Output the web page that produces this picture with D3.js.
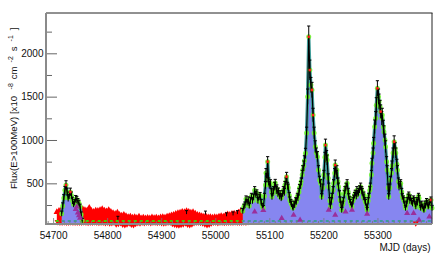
<!DOCTYPE html>
<html><head><meta charset="utf-8">
<script src="https://cdn.jsdelivr.net/npm/d3@7"></script>
<style>html,body{margin:0;padding:0;background:#fff;} svg{display:block;}</style>
</head><body>
<svg id="c" width="447" height="256"></svg>
<script>
// ---------- data ----------
const xDomain = [54686, 55400];
const yDomain = [31, 2465];
const xTickValues = [54700, 54800, 54900, 55000, 55100, 55200, 55300];
const yTickValues = [500, 1000, 1500, 2000];
const yMinorTicks = [250, 750, 1250, 1750, 2250];
const xTitle = "MJD (days)";

// dense red early points (time grid, high and low edge of the band)
const redMjd = d3.range(54706, 55059, 4);
const redHi = [180,195,205,220,230,220,230,220,210,220,
               210,200,215,205,200,230,195,185,200,195,
               205,215,200,190,205,185,170,160,175,150,
               140,150,135,125,130,118,125,115,128,110,
               118,108,115,110,120,112,118,110,120,125,
               118,130,135,145,150,160,170,175,185,180,
               192,185,175,180,165,150,145,135,130,128,
               122,125,118,125,120,130,135,130,145,155,
               150,160,165,158,175,190,200,185,170];
const redLo = [45,40,40,42,38,40,42,40,38,40,
               40,38,42,40,36,40,38,42,40,36,
               40,38,35,40,30,35,38,20,25,35,
               15,10,20,30,15,10,25,35,30,38,
               35,40,38,35,40,38,36,40,35,30,
               35,38,40,25,15,10,8,12,20,30,
               15,10,20,35,38,40,36,30,20,10,
               15,30,38,40,35,38,40,36,38,40,
               40,38,42,40,38,40,42,40,45];

// sparse black points inside the red period [mjd, flux, err]
const quietPoints = [[54819,100,20],[54946,165,20],[54981,160,20],[55020,140,20],[55032,150,20],[55040,165,20],[55048,190,25]];

// first flare [mjd, flux, err]
const flareA = [[54715,150,30],[54717,240,35],[54719,330,40],[54721,420,45],[54723,480,50],[54725,400,45],
  [54727,330,40],[54729,360,40],[54731,400,45],[54733,360,40],[54735,300,40],[54737,260,35],[54739,280,35],
  [54741,320,40],[54743,310,40],[54745,290,35],[54747,270,35],[54749,230,30],[54751,140,30],[54753,70,25]];

// main active period [mjd, flux, err]
const flareB = [
  [55050,180,30],[55052,230,30],[55054,250,35],[55056,320,35],[55058,280,35],[55060,310,35],[55062,240,30],
  [55064,300,35],[55066,350,35],[55068,300,35],[55070,340,35],[55072,420,42],[55074,370,35],[55076,390,35],
  [55078,300,35],[55080,340,35],[55082,360,35],[55084,280,35],[55086,240,30],[55088,215,30],[55090,350,35],
  [55092,480,42],[55093,620,50],[55095,560,50],[55096,750,58],[55098,520,42],[55099,480,42],[55101,500,42],
  [55103,400,42],[55104,346,35],[55106,390,35],[55107,420,42],[55109,470,42],[55110,504,42],[55112,420,42],
  [55113,440,42],[55115,380,35],[55116,404,42],[55118,350,35],[55119,380,35],[55121,330,35],[55122,346,35],
  [55124,380,35],[55125,420,42],[55127,400,42],[55128,480,42],[55130,520,42],[55131,577,50],[55133,470,42],
  [55134,450,42],[55136,360,35],[55137,308,35],[55139,280,35],[55140,260,35],[55142,230,30],[55143,215,30],
  [55145,260,35],[55146,250,35],[55148,300,35],[55149,288,35],[55151,350,35],[55152,330,35],[55154,400,42],
  [55155,446,42],[55157,480,42],[55158,520,42],[55160,600,50],[55161,654,50],[55163,700,58],[55164,760,58],
  [55166,846,58],[55168,1080,68],[55170,1500,88],[55172,2190,125],[55174,1807,115],[55176,1634,88],
  [55178,1577,88],[55180,1288,78],[55182,1080,68],[55184,923,68],[55186,850,58],[55188,808,58],[55190,654,50],
  [55192,540,42],[55194,500,42],[55196,346,35],[55198,450,42],[55200,600,50],[55202,800,58],[55203,942,68],
  [55205,820,58],[55206,769,58],[55208,560,50],[55209,461,42],[55211,300,35],[55212,231,30],[55214,300,35],
  [55215,350,35],[55217,420,42],[55218,500,42],[55220,620,50],[55221,711,58],[55223,600,50],[55224,654,50],
  [55226,520,42],[55227,461,42],[55229,380,35],[55230,308,35],[55232,250,35],[55233,192,30],[55235,260,35],
  [55236,300,35],[55238,380,35],[55239,420,42],[55241,460,42],[55243,500,42],[55245,400,42],[55246,346,35],
  [55248,310,35],[55249,280,35],[55251,250,35],[55252,231,30],[55254,300,35],[55255,330,35],[55257,360,35],
  [55258,385,35],[55260,350,35],[55261,420,42],[55263,380,35],[55264,400,42],[55266,430,42],[55268,461,42],
  [55270,420,42],[55271,400,42],[55273,340,35],[55274,365,35],[55276,300,35],[55277,280,35],[55279,230,30],
  [55280,192,30],[55282,300,35],[55283,350,35],[55285,420,42],[55286,461,42],[55288,600,50],[55289,731,58],
  [55291,850,58],[55292,962,68],[55294,1153,78],[55296,1250,78],[55297,1400,88],[55299,1596,88],
  [55301,1500,88],[55302,1442,88],[55304,1380,78],[55305,1327,78],[55307,1250,78],[55308,1288,78],
  [55310,1150,78],[55311,1096,68],[55313,1000,68],[55314,923,68],[55316,750,58],[55317,654,50],[55319,450,42],
  [55320,346,35],[55322,450,42],[55323,538,42],[55325,620,50],[55326,700,58],[55328,850,58],[55330,980,68],
  [55332,900,68],[55333,850,58],[55335,720,58],[55336,654,50],[55338,520,42],[55339,461,42],[55341,480,42],
  [55342,500,42],[55344,400,42],[55345,346,35],[55347,320,35],[55348,300,35],[55350,250,35],[55351,215,30],
  [55353,260,35],[55354,300,35],[55356,340,35],[55357,365,35],[55359,300,35],[55360,330,35],[55362,290,35],
  [55364,269,35],[55366,320,35],[55367,300,35],[55369,260,35],[55370,231,30],[55372,300,35],[55373,280,35],
  [55375,350,35],[55376,327,35],[55378,250,35],[55379,215,30],[55381,260,35],[55382,230,30],[55384,210,30],
  [55385,192,30],[55387,260,35],[55388,240,30],[55390,290,35],[55391,269,35],[55393,230,30],[55394,250,35],
  [55396,280,35],[55398,308,35],[55400,215,30]];

// points drawn with a red centre
const redCentreMjd = [54723,54731,55096,55131,55172,55174,55178,55180,55203,55221,55299,55305,55330,55398];
// purple triangles [mjd, flux]
const purpleMarks = [[54741,200],[54743,230],[54745,160],[54747,130],[54749,100],[55072,173],[55088,190],[55122,96],[55144,135],[55156,77],
  [55209,192],[55221,135],[55240,173],[55252,192],[55280,146],[55354,154],[55366,154],[55376,77],[55395,115]];
// red down triangle
const redMarks = [[55370,40]];
// dotted baseline level and its extent
const baseLevel = 66;
const baseRange = [54704, 55400];

// ---------- chart ----------
const svg = d3.select("#c");
const L = 46, R = 432, T = 13, B = 224;
const x = d3.scaleLinear().domain(xDomain).range([L, R]);
const y = d3.scaleLinear().domain(yDomain).range([B, T]);
const FONT = "'Liberation Sans', Arial, Helvetica, sans-serif";

const BLUE = "#8686f0", TEAL = "#3f9c98", GREEN = "#6cf526", PURPLE = "#9a2f9c";

// red band
const redData = redMjd.map((m, i) => ({m, hi: redHi[i], lo: redLo[i]}));
svg.append("path").datum(redData)
  .attr("d", d3.area().x(d => x(d.m)).y0(d => y(d.lo)).y1(d => y(d.hi)))
  .attr("fill", "#ff0000");
const redTri = d3.symbol().type(d3.symbolTriangle).size(18);
svg.append("g").selectAll("path").data(redData).join("path")
  .attr("d", redTri).attr("transform", d => `translate(${x(d.m)},${y(d.hi) + 1})`).attr("fill", "#ff0000");
svg.append("g").selectAll("path").data(redData).join("path")
  .attr("d", redTri).attr("transform", d => `translate(${x(d.m) + 1},${y(d.lo) - 1}) rotate(180)`).attr("fill", "#ff0000");

// green dotted baseline (on top of the red band)
svg.append("line").attr("x1", x(baseRange[0])).attr("x2", x(baseRange[1]))
  .attr("y1", y(baseLevel)).attr("y2", y(baseLevel))
  .attr("stroke", "#3fd400").attr("stroke-width", 2).attr("stroke-dasharray", "3,3");

// quiet black points
quietPoints.forEach(([m, f, e]) => {
  const g = svg.append("g").attr("stroke", "#000").attr("stroke-width", 1);
  g.append("line").attr("x1", x(m)).attr("x2", x(m)).attr("y1", y(f - e)).attr("y2", y(f + e));
  g.append("line").attr("x1", x(m) - 1.5).attr("x2", x(m) + 1.5).attr("y1", y(f + e)).attr("y2", y(f + e));
});

const series = [flareA, flareB];
const area = d3.area().x(d => x(d[0])).y0(y(yDomain[0])).y1(d => y(d[1]));
const line = d3.line().x(d => x(d[0])).y(d => y(d[1]));

const defs = svg.append("defs");
const clip = defs.append("clipPath").attr("id", "blueClip");
series.forEach(s => clip.append("path").attr("d", area(s)));

series.forEach(s => {
  svg.append("path").attr("d", area(s)).attr("fill", BLUE);
});
// teal dotted baseline inside the blue areas
svg.append("line").attr("clip-path", "url(#blueClip)")
  .attr("x1", x(baseRange[0])).attr("x2", x(baseRange[1]))
  .attr("y1", y(baseLevel)).attr("y2", y(baseLevel))
  .attr("stroke", "#3f9c98").attr("stroke-width", 2).attr("stroke-dasharray", "3,3");

// teal edge
series.forEach(s => {
  svg.append("path").attr("d", line(s)).attr("fill", "none").attr("stroke", TEAL)
    .attr("stroke-width", 3.4).attr("stroke-linejoin", "round");
});
// green markers
series.forEach(s => {
  svg.append("g").selectAll("circle").data(s).join("circle")
    .attr("cx", d => x(d[0])).attr("cy", d => y(d[1])).attr("r", 2.5)
    .attr("fill", GREEN).attr("fill-opacity", 0.85);
});
// black error bars & line
series.forEach(s => {
  const g = svg.append("g").attr("stroke", "#000").attr("stroke-width", 1);
  s.forEach(([m, f, e]) => {
    g.append("line").attr("x1", x(m)).attr("x2", x(m)).attr("y1", y(f - e)).attr("y2", y(f + e));
    g.append("line").attr("x1", x(m) - 1.6).attr("x2", x(m) + 1.6).attr("y1", y(f + e)).attr("y2", y(f + e));
  });
  svg.append("path").attr("d", line(s)).attr("fill", "none").attr("stroke", "#000").attr("stroke-width", 1.2);
});
// red centres
const allPts = flareA.concat(flareB);
redCentreMjd.forEach(m => {
  const p = allPts.find(d => d[0] === m);
  if (p) svg.append("circle").attr("cx", x(p[0])).attr("cy", y(p[1])).attr("r", 1.4).attr("fill", "#ff1a1a");
});
// purple triangles
const tri = d3.symbol().type(d3.symbolTriangle).size(16);
svg.append("g").selectAll("path").data(purpleMarks).join("path")
  .attr("d", tri).attr("transform", d => `translate(${x(d[0])},${y(d[1])})`).attr("fill", PURPLE);
svg.append("g").selectAll("path").data(redMarks).join("path")
  .attr("d", tri).attr("transform", d => `translate(${x(d[0])},${y(d[1])}) rotate(180)`).attr("fill", "#ff0000");

// ---------- axes ----------
svg.append("line").attr("x1", L).attr("x2", R + 0.5).attr("y1", T).attr("y2", T).attr("stroke", "#222").attr("stroke-width", 1);
svg.append("line").attr("x1", R).attr("x2", R).attr("y1", T).attr("y2", B).attr("stroke", "#222").attr("stroke-width", 1);
const yAxisG = svg.append("g").attr("transform", `translate(${L},0)`);
yAxisG.call(d3.axisRight(y).tickValues(yTickValues).tickSize(11).tickFormat(""));
yAxisG.call(g => g.select(".domain").remove());
yAxisG.selectAll("line").attr("stroke", "#666");
const yMinorG = svg.append("g").attr("transform", `translate(${L},0)`);
yMinorG.call(d3.axisRight(y).tickValues(yMinorTicks).tickSize(6).tickFormat(""));
yMinorG.call(g => g.select(".domain").remove());
yMinorG.selectAll("line").attr("stroke", "#666");
svg.append("line").attr("x1", L).attr("x2", L).attr("y1", T).attr("y2", B + 1).attr("stroke", "#8a8a8a").attr("stroke-width", 2);
svg.append("g").selectAll("text").data(yTickValues).join("text")
  .attr("x", 43.5).attr("y", d => y(d) + 3.8).attr("text-anchor", "end")
  .attr("font-family", FONT).attr("font-size", 10).attr("fill", "#111").text(d => d);

const xMinor = d3.range(54690, 55400, 10);
svg.append("g").selectAll("line").data(xMinor).join("line")
  .attr("x1", d => x(d)).attr("x2", d => x(d)).attr("y1", B).attr("y2", d => d % 100 === 0 ? B - 6 : B - 3)
  .attr("stroke", "#777").attr("stroke-width", 0.8);
svg.append("line").attr("x1", L - 1).attr("x2", R).attr("y1", B).attr("y2", B).attr("stroke", "#8a8a8a").attr("stroke-width", 2);
svg.append("g").selectAll("text").data(xTickValues).join("text")
  .attr("x", d => x(d)).attr("y", 238.7).attr("text-anchor", "middle")
  .attr("font-family", FONT).attr("font-size", 10).attr("fill", "#111").text(d => d);
svg.append("text").attr("x", 430.5).attr("y", 250.5).attr("text-anchor", "end")
  .attr("font-family", FONT).attr("font-size", 10).attr("fill", "#111").text(xTitle);

// y title with superscripts
const yt = svg.append("text").attr("transform", "translate(17.3,189) rotate(-90)")
  .attr("font-family", FONT).attr("font-size", 9.6).attr("fill", "#111");
yt.append("tspan").text("Flux(E>100MeV) [x10");
yt.append("tspan").attr("dx", 6.5).attr("dy", -4.5).attr("font-size", 7).text("-8");
yt.append("tspan").attr("dx", 4).attr("dy", 4.5).text("cm");
yt.append("tspan").attr("dx", 4).attr("dy", -4.5).attr("font-size", 7).text("-2");
yt.append("tspan").attr("dx", 5).attr("dy", 4.5).text("s");
yt.append("tspan").attr("dx", 5).attr("dy", -4.5).attr("font-size", 7).text("-1");
yt.append("tspan").attr("dx", 5).attr("dy", 4.5).text("]");
</script>
</body></html>
